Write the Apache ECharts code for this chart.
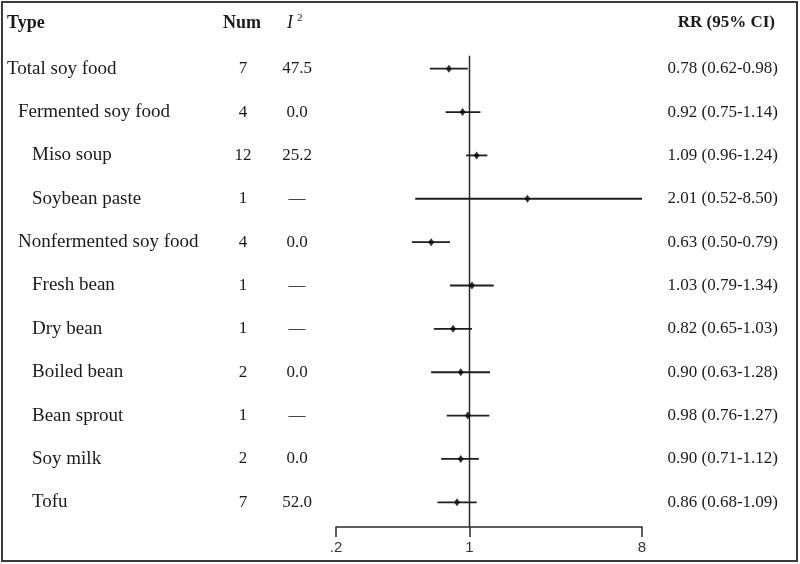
<!DOCTYPE html>
<html><head><meta charset="utf-8">
<script src="https://cdn.jsdelivr.net/npm/echarts@6/dist/echarts.min.js"></script>
<style>html,body{margin:0;padding:0;background:#fff}#c{width:800px;height:564px}</style>
</head><body><div id="c"></div>
<script>
const types = ['Total soy food','Fermented soy food','Miso soup','Soybean paste','Nonfermented soy food','Fresh bean','Dry bean','Boiled bean','Bean sprout','Soy milk','Tofu'];
const levels = [0,1,2,2,1,2,2,2,2,2,2];
const nums = [7,4,12,1,4,1,1,2,1,2,7];
const i2 = ['47.5','0.0','25.2','—','0.0','—','—','0.0','—','0.0','52.0'];
const rr = [0.78,0.92,1.09,2.01,0.63,1.03,0.82,0.90,0.98,0.90,0.86];
const lo = [0.62,0.75,0.96,0.52,0.50,0.79,0.65,0.63,0.76,0.71,0.68];
const hi = [0.98,1.14,1.24,8.50,0.79,1.34,1.03,1.28,1.27,1.12,1.09];
const xTicks = [0.2,1,8];
const xTickLabels = ['.2','1','8'];
const refValue = 1;

const FONT = 'Liberation Serif';
const TXT = '#1a1a1a';
const xMin = xTicks[0], xMax = xTicks[xTicks.length-1];
const rrText = rr.map((v,i)=>v.toFixed(2)+' ('+lo[i].toFixed(2)+'-'+hi[i].toFixed(2)+')');

function textAxis(data, position, align, margin, fontSize, formatter, rich){
  return {type:'category', data:data, inverse:true, position:position, offset:0,
    axisLine:{show:false}, axisTick:{show:false}, splitLine:{show:false},
    axisLabel:{interval:0, align:align, margin:margin, fontFamily:FONT, fontSize:fontSize, color:TXT,
      formatter:formatter, rich:rich}};
}

const chart = echarts.init(document.getElementById('c'), null, {renderer:'canvas'});
chart.setOption({
  animation:false,
  backgroundColor:'#fff',
  grid:{left:336, right:158, top:47, bottom:40, containLabel:false},
  xAxis:{type:'log', min:xMin, max:xMax, logBase:10, offset:3,
    axisLine:{show:true, lineStyle:{color:'#2a2a2a', width:1.5}},
    axisTick:{show:true, length:10, inside:false, customValues:xTicks, lineStyle:{color:'#2a2a2a', width:1.5}},
    axisLabel:{customValues:xTicks, margin:13, fontFamily:'Liberation Sans Narrow, Liberation Sans', fontSize:15, color:'#333',
      formatter:(v)=>{const k=xTicks.findIndex(t=>Math.abs(t-v)<1e-9);return k>=0?xTickLabels[k]:'';}},
    splitLine:{show:false}, minorTick:{show:false}
  },
  yAxis:[
    textAxis(types.map((t,i)=>i), 'left', 'left', 329, 19,
      (v)=>'{l'+levels[+v]+'|'+types[+v]+'}',
      {l0:{fontFamily:FONT,fontSize:19,color:TXT},
       l1:{fontFamily:FONT,fontSize:19,color:TXT,padding:[0,0,0,11]},
       l2:{fontFamily:FONT,fontSize:19,color:TXT,padding:[0,0,0,25]}}),
    textAxis(nums.map(String), 'left', 'center', 93, 17),
    textAxis(i2, 'left', 'center', 39, 17),
    textAxis(rrText, 'right', 'right', 136, 17)
  ],
  series:[
    {type:'custom', name:'ref', yAxisIndex:0, silent:true,
      data:[[refValue]],
      encode:{x:0},
      renderItem:(params, api)=>{
        const cs = params.coordSys;
        const p = api.coord([api.value(0), 0]);
        return {type:'line', shape:{x1:p[0], y1:p[1]-13, x2:p[0], y2:cs.y+cs.height+3},
          style:{stroke:'#2a2a2a', lineWidth:1.5}};
      }, z:1},
    {type:'custom', name:'ci', yAxisIndex:0, silent:true,
      data:lo.map((v,i)=>[v, Math.min(hi[i], xMax), i]),
      encode:{x:[0,1], y:2},
      renderItem:(params, api)=>{
        const a = api.coord([api.value(0), api.value(2)]);
        const b = api.coord([api.value(1), api.value(2)]);
        return {type:'line', shape:{x1:a[0], y1:a[1], x2:b[0], y2:b[1]},
          style:{stroke:'#1e1e1e', lineWidth:1.8}};
      }, z:2},
    {type:'scatter', name:'rr', yAxisIndex:0, silent:true,
      data:rr.map((v,i)=>[v,i]), symbol:'diamond', symbolSize:[6,8],
      itemStyle:{color:'#000'}, z:3}
  ],
  graphic:[
    {type:'rect', shape:{x:2, y:2, width:795, height:559}, style:{fill:null, stroke:'#3a3a3a', lineWidth:2}, silent:true},
    {type:'text', x:7, y:23, style:{text:'Type', font:'bold 18px '+FONT, fill:TXT, verticalAlign:'middle', textAlign:'left'}},
    {type:'text', x:242, y:23, style:{text:'Num', font:'bold 18px '+FONT, fill:TXT, verticalAlign:'middle', textAlign:'center'}},
    {type:'text', x:287, y:23, style:{text:'{i|I}{s|2}', fill:TXT, verticalAlign:'middle', textAlign:'left',
      rich:{i:{fontFamily:FONT, fontStyle:'italic', fontSize:18, fill:TXT},
            s:{fontFamily:FONT, fontSize:11, fill:TXT, padding:[0,0,10,4]}}}},
    {type:'text', x:775, y:23, style:{text:'RR (95% CI)', font:'bold 17px '+FONT, fill:TXT, verticalAlign:'middle', textAlign:'right'}}
  ]
});
</script></body></html>
